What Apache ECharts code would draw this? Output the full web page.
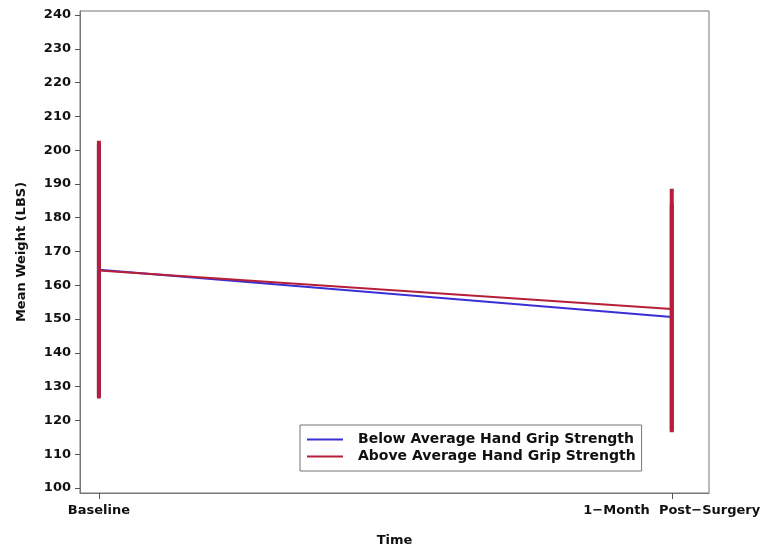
<!DOCTYPE html>
<html>
<head>
<meta charset="utf-8">
<script src="https://cdn.jsdelivr.net/npm/echarts@6/dist/echarts.min.js"></script>
<style>
	html, body { margin: 0; padding: 0; background: #fff; }
	#chart { width: 767px; height: 554px; }
</style>
</head>
<body>
<div id="chart"></div>
<script>
	// time points on x (0 = baseline, 1 = one month)
	var timeLabels = ['Baseline', '1\u2212Month  Post\u2212Surgery']
	var timePos = [0, 1]
	var yTicks = [100, 110, 120, 130, 140, 150, 160, 170, 180, 190, 200, 210, 220, 230, 240]

	var belowMean = [164.6, 150.6]
	var aboveMean = [164.4, 153.0]
	var belowLow = [127, 117]
	var belowHigh = [202, 184]
	var aboveLow = [126.5, 116.5]
	var aboveHigh = [202.8, 188.6]

	var BLUE = '#3a2fd6'
	var RED = '#b51f38'
	var font = 'DejaVu Sans, sans-serif'

	function pairs(ys) {
		return timePos.map(function (x, i) { return [x, ys[i]] })
	}
	function bars(lo, hi) {
		return timePos.map(function (x, i) { return [x, lo[i], hi[i]] })
	}
	function barRender(color) {
		return function (params, api) {
			var a = api.coord([api.value(0), api.value(1)])
			var b = api.coord([api.value(0), api.value(2)])
			return {
				type: 'line',
				shape: { x1: a[0], y1: a[1], x2: b[0], y2: b[1] },
				style: { stroke: color, lineWidth: 4 }
			}
		}
	}

	var chart = echarts.init(document.getElementById('chart'))
	chart.setOption({
		animation: false,
		textStyle: { fontFamily: font },
		grid: {
			left: 80, right: 58, top: 11, bottom: 61,
			show: true, borderColor: '#777', borderWidth: 1
		},
		legend: {
			orient: 'vertical',
			left: 300, top: 425,
			data: ['Below Average Hand Grip Strength', 'Above Average Hand Grip Strength'],
			icon: 'rect',
			itemWidth: 36, itemHeight: 2,
			itemGap: 2,
			padding: [7, 6, 7, 7],
			borderColor: '#777', borderWidth: 1,
			textStyle: { fontFamily: font, fontWeight: 'bold', fontSize: 14, lineHeight: 15, color: '#111', padding: [0, 0, 0, 10] }
		},
		xAxis: {
			type: 'value',
			min: -0.033, max: 1.065,
			name: 'Time', nameLocation: 'middle', nameGap: 41,
			nameTextStyle: { fontFamily: font, fontWeight: 'bold', fontSize: 13, color: '#111' },
			splitLine: { show: false },
			axisLine: { show: true, onZero: false, lineStyle: { color: '#777' } },
			axisTick: { show: true, customValues: timePos, length: 6, lineStyle: { color: '#555' } },
			axisLabel: {
				customValues: timePos, margin: 11,
				fontFamily: font, fontWeight: 'bold', fontSize: 13, color: '#111',
				formatter: function (v) { return timeLabels[Math.round(v)] }
			}
		},
		yAxis: {
			type: 'value',
			min: 98.5, max: 241.2,
			name: 'Mean Weight (LBS)', nameLocation: 'middle', nameGap: 52,
			nameTextStyle: { fontFamily: font, fontWeight: 'bold', fontSize: 13, color: '#111' },
			splitLine: { show: false },
			axisLine: { show: true, onZero: false, lineStyle: { color: '#777' } },
			axisTick: { show: true, customValues: yTicks, length: 5, lineStyle: { color: '#555' } },
			axisLabel: {
				customValues: yTicks, margin: 9,
				fontFamily: font, fontWeight: 'bold', fontSize: 13, color: '#111'
			}
		},
		series: [{
			name: 'Below Average Hand Grip Strength',
			type: 'line',
			data: pairs(belowMean),
			symbol: 'none',
			lineStyle: { color: BLUE, width: 2 },
			itemStyle: { color: BLUE },
			z: 2
		}, {
			name: 'Above Average Hand Grip Strength',
			type: 'line',
			data: pairs(aboveMean),
			symbol: 'none',
			lineStyle: { color: RED, width: 2 },
			itemStyle: { color: RED },
			z: 3
		}, {
			name: 'belowBars',
			type: 'custom',
			data: bars(belowLow, belowHigh),
			renderItem: barRender(BLUE),
			encode: { x: 0, y: [1, 2] },
			z: 4
		}, {
			name: 'aboveBars',
			type: 'custom',
			data: bars(aboveLow, aboveHigh),
			renderItem: barRender(RED),
			encode: { x: 0, y: [1, 2] },
			z: 5
		}]
	})
</script>
</body>
</html>
